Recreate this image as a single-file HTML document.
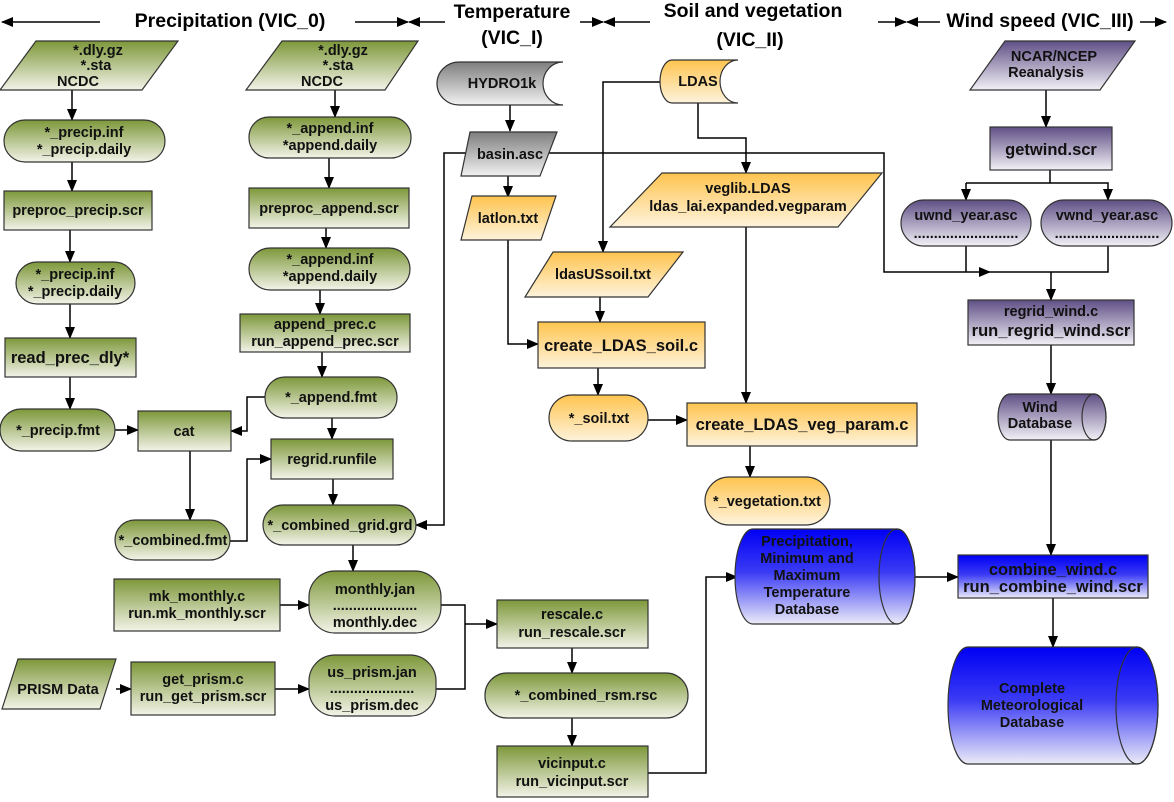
<!DOCTYPE html>
<html><head><meta charset="utf-8"><style>
html,body{margin:0;padding:0;background:#fff}
svg{display:block}
text{font-family:"Liberation Sans",sans-serif;font-weight:bold;font-size:14.5px;fill:#111;text-anchor:middle}
.h{font-size:19.5px;fill:#000}
.b{font-size:16.5px}
</style></head><body>
<svg width="1174" height="802" viewBox="0 0 1174 802" xmlns="http://www.w3.org/2000/svg">
<defs>
<linearGradient id="g" x1="0" y1="0" x2="0" y2="1"><stop offset="0" stop-color="#7d983a"/><stop offset="1" stop-color="#f3f3e8"/></linearGradient>
<linearGradient id="o" x1="0" y1="0" x2="0" y2="1"><stop offset="0" stop-color="#ffc44f"/><stop offset="1" stop-color="#fdf3dc"/></linearGradient>
<linearGradient id="gr" x1="0" y1="0" x2="0" y2="1"><stop offset="0" stop-color="#7e7e7e"/><stop offset="1" stop-color="#f2f2f2"/></linearGradient>
<linearGradient id="p" x1="0" y1="0" x2="0" y2="1"><stop offset="0" stop-color="#5f4f85"/><stop offset="1" stop-color="#f3f1f7"/></linearGradient>
<linearGradient id="bl" x1="0" y1="0" x2="0" y2="1"><stop offset="0" stop-color="#0000f5"/><stop offset="0.45" stop-color="#3a3af5"/><stop offset="1" stop-color="#ececf8"/></linearGradient>
<marker id="a" markerWidth="12" markerHeight="10" refX="11" refY="5" orient="auto" markerUnits="userSpaceOnUse"><path d="M0,0 L12,5 L0,10 Z" fill="#000"/></marker>
</defs>
<g stroke="#333" stroke-width="1.2">
<g stroke="#000" stroke-width="1.5" fill="none">
<line x1="100" y1="22" x2="2" y2="22" marker-end="url(#a)"/>
<line x1="355" y1="22" x2="408" y2="22" marker-end="url(#a)"/>
<line x1="445" y1="22" x2="409" y2="22" marker-end="url(#a)"/>
<line x1="580" y1="22" x2="603" y2="22" marker-end="url(#a)"/>
<line x1="650" y1="22" x2="604" y2="22" marker-end="url(#a)"/>
<line x1="878" y1="22" x2="906" y2="22" marker-end="url(#a)"/>
<line x1="940" y1="22" x2="907" y2="22" marker-end="url(#a)"/>
<line x1="1140" y1="22" x2="1166" y2="22" marker-end="url(#a)"/>
</g>
<g stroke="#000" stroke-width="1.5" fill="none">
<line x1="72" y1="90" x2="72" y2="120" marker-end="url(#a)"/>
<line x1="72" y1="162" x2="72" y2="191" marker-end="url(#a)"/>
<line x1="70" y1="230" x2="70" y2="262" marker-end="url(#a)"/>
<line x1="70" y1="304" x2="70" y2="338" marker-end="url(#a)"/>
<line x1="70" y1="377" x2="70" y2="409" marker-end="url(#a)"/>
<line x1="115" y1="430" x2="138" y2="430" marker-end="url(#a)"/>
<polyline points="265,397 247,397 247,431 231,431" marker-end="url(#a)"/>
<line x1="190" y1="451" x2="190" y2="520" marker-end="url(#a)"/>
<polyline points="230,541 247,541 247,459 271,459" marker-end="url(#a)"/>
<line x1="335" y1="90" x2="335" y2="117" marker-end="url(#a)"/>
<line x1="329" y1="158" x2="329" y2="188" marker-end="url(#a)"/>
<line x1="326" y1="228" x2="326" y2="248" marker-end="url(#a)"/>
<line x1="320" y1="290" x2="320" y2="314" marker-end="url(#a)"/>
<line x1="322" y1="352" x2="322" y2="377" marker-end="url(#a)"/>
<line x1="332" y1="418" x2="332" y2="439" marker-end="url(#a)"/>
<line x1="333" y1="479" x2="333" y2="505" marker-end="url(#a)"/>
<polyline points="470,153 444,153 444,525 416,525" marker-end="url(#a)"/>
<line x1="353" y1="545" x2="353" y2="571" marker-end="url(#a)"/>
<line x1="280" y1="605" x2="309" y2="605" marker-end="url(#a)"/>
<line x1="116" y1="689" x2="131" y2="689" marker-end="url(#a)"/>
<line x1="275" y1="689" x2="309" y2="689" marker-end="url(#a)"/>
<polyline points="441,605 465,605 465,689 436,689"/>
<line x1="465" y1="624" x2="497" y2="624" marker-end="url(#a)"/>
<line x1="572" y1="648" x2="572" y2="673" marker-end="url(#a)"/>
<line x1="572" y1="718" x2="572" y2="746" marker-end="url(#a)"/>
<polyline points="648,773 706,773 706,577 737,577" marker-end="url(#a)"/>
<line x1="510" y1="105" x2="510" y2="131" marker-end="url(#a)"/>
<polyline points="548,153 884,153 884,272 990,272" marker-end="url(#a)"/>
<line x1="508" y1="176" x2="508" y2="197" marker-end="url(#a)"/>
<polyline points="508,240 508,344 538,344" marker-end="url(#a)"/>
<polyline points="660,82 603,82 603,252" marker-end="url(#a)"/>
<polyline points="698,103 698,138 746,138 746,173" marker-end="url(#a)"/>
<line x1="746" y1="227" x2="746" y2="403" marker-end="url(#a)"/>
<line x1="600" y1="297" x2="600" y2="322" marker-end="url(#a)"/>
<line x1="598" y1="368" x2="598" y2="395" marker-end="url(#a)"/>
<line x1="648" y1="420" x2="687" y2="420" marker-end="url(#a)"/>
<line x1="750" y1="446" x2="750" y2="477" marker-end="url(#a)"/>
<line x1="915" y1="577" x2="958" y2="577" marker-end="url(#a)"/>
<line x1="1053" y1="598" x2="1053" y2="647" marker-end="url(#a)"/>
<line x1="1046" y1="90" x2="1046" y2="127" marker-end="url(#a)"/>
<polyline points="1050,170 1050,183"/>
<polyline points="966,183 966,200" marker-end="url(#a)"/>
<polyline points="966,183 1108,183 1108,200" marker-end="url(#a)"/>
<polyline points="966,246 966,272"/>
<polyline points="1108,246 1108,272 990,272"/>
<line x1="1051" y1="272" x2="1051" y2="300" marker-end="url(#a)"/>
<line x1="1051" y1="345" x2="1051" y2="394" marker-end="url(#a)"/>
<line x1="1051" y1="440" x2="1051" y2="555" marker-end="url(#a)"/>
</g>
<g fill="url(#g)">
<polygon points="36,41 178,41 142,90 0,90"/>
<rect x="4" y="120" width="161" height="42" rx="21"/>
<rect x="4" y="191" width="148" height="39"/>
<rect x="16" y="262" width="119" height="42" rx="21"/>
<rect x="5" y="338" width="131" height="39"/>
<rect x="0" y="409" width="115" height="42" rx="21"/>
<rect x="138" y="411" width="93" height="40"/>
<rect x="115" y="520" width="115" height="40" rx="20"/>
<polygon points="282,41 418,41 385,90 246,90"/>
<rect x="249" y="117" width="162" height="41" rx="20"/>
<rect x="249" y="188" width="160" height="40"/>
<rect x="249" y="248" width="161" height="42" rx="21"/>
<rect x="240" y="314" width="170" height="38"/>
<rect x="265" y="377" width="132" height="41" rx="20"/>
<rect x="271" y="439" width="122" height="40"/>
<rect x="263" y="505" width="153" height="40" rx="20"/>
<rect x="309" y="571" width="132" height="62" rx="26"/>
<rect x="114" y="579" width="166" height="52"/>
<polygon points="18,659 116,659 100,709 2,709"/>
<rect x="131" y="662" width="144" height="53"/>
<rect x="309" y="655" width="127" height="61" rx="26"/>
<rect x="497" y="600" width="151" height="48"/>
<rect x="485" y="673" width="203" height="45" rx="22"/>
<rect x="497" y="746" width="151" height="51"/>
</g>
<g fill="url(#gr)">
<path d="M459,62 H563 A20 21.5 0 0 0 563,105 H459 A22 21.5 0 0 1 459,62 Z"/>
<polygon points="470,132 557,132 540,176 461,176"/>
</g>
<g fill="url(#o)">
<path d="M672,60 H738 A18 21.5 0 0 0 738,103 H672 A12 21.5 0 0 1 672,60 Z"/>
<polygon points="472,196 556,196 541,240 461,240"/>
<polygon points="662,173 882,173 838,227 610,227"/>
<polygon points="553,252 683,252 648,297 525,297"/>
<rect x="538" y="322" width="167" height="46"/>
<rect x="549" y="395" width="99" height="46" rx="23"/>
<rect x="687" y="403" width="230" height="43"/>
<rect x="705" y="477" width="125" height="48" rx="24"/>
</g>
<g fill="url(#p)">
<polygon points="1005,41 1135,41 1100,90 970,90"/>
<rect x="990" y="127" width="122" height="43"/>
<rect x="901" y="200" width="130" height="46" rx="23"/>
<rect x="1041" y="200" width="131" height="46" rx="23"/>
<rect x="968" y="300" width="166" height="45"/>
<path d="M1010,394 H1094 A12 23 0 0 1 1094,440 H1010 A12 23 0 0 1 1010,394 Z"/>
<ellipse cx="1094" cy="417" rx="12" ry="23" fill="none"/>
</g>
<g fill="url(#bl)">
<path d="M753,529 H897 A18 47.5 0 0 1 897,624 H753 A18 47.5 0 0 1 753,529 Z"/>
<ellipse cx="897" cy="576.5" rx="18" ry="47.5" fill="none"/>
<rect x="958" y="555" width="190" height="43"/>
<path d="M968,647 H1137 A21 58.5 0 0 1 1137,764 H968 A20 58.5 0 0 1 968,647 Z"/>
<ellipse cx="1137" cy="705.5" rx="21" ry="58.5" fill="none"/>
</g>
</g>
<text class="h" x="230" y="27">Precipitation (VIC_0)</text>
<text class="h" x="512" y="18">Temperature</text>
<text class="h" x="512" y="44">(VIC_I)</text>
<text class="h" x="753" y="17">Soil and vegetation</text>
<text class="h" x="750" y="46">(VIC_II)</text>
<text class="h" x="1040" y="27">Wind speed (VIC_III)</text>
<text x="98" y="55">*.dly.gz</text><text x="96" y="70">*.sta</text><text x="78" y="86">NCDC</text>
<text x="84" y="137">*_precip.inf</text><text x="84" y="154">*_precip.daily</text>
<text x="78" y="215">preproc_precip.scr</text>
<text x="75" y="279">*_precip.inf</text><text x="75" y="296">*_precip.daily</text>
<text class="b" x="70" y="363">read_prec_dly*</text>
<text x="58" y="435">*_precip.fmt</text>
<text x="184" y="436">cat</text>
<text x="173" y="545">*_combined.fmt</text>
<text x="343" y="55">*.dly.gz</text><text x="338" y="70">*.sta</text><text x="322" y="86">NCDC</text>
<text x="330" y="133">*_append.inf</text><text x="330" y="150">*append.daily</text>
<text x="329" y="213">preproc_append.scr</text>
<text x="330" y="264">*_append.inf</text><text x="330" y="281">*append.daily</text>
<text x="325" y="329">append_prec.c</text><text x="325" y="346">run_append_prec.scr</text>
<text x="331" y="402">*_append.fmt</text>
<text x="332" y="464">regrid.runfile</text>
<text x="340" y="530">*_combined_grid.grd</text>
<text x="375" y="594">monthly.jan</text><text x="375" y="610">.....................</text><text x="375" y="627">monthly.dec</text>
<text x="197" y="601">mk_monthly.c</text><text x="197" y="618">run.mk_monthly.scr</text>
<text x="58" y="694">PRISM Data</text>
<text x="203" y="684">get_prism.c</text><text x="203" y="701">run_get_prism.scr</text>
<text x="372" y="677">us_prism.jan</text><text x="372" y="693">.....................</text><text x="372" y="710">us_prism.dec</text>
<text x="572" y="619">rescale.c</text><text x="572" y="637">run_rescale.scr</text>
<text x="586" y="700">*_combined_rsm.rsc</text>
<text x="572" y="768">vicinput.c</text><text x="572" y="786">run_vicinput.scr</text>
<text x="502" y="88">HYDRO1k</text>
<text x="510" y="159">basin.asc</text>
<text x="508" y="223">latlon.txt</text>
<text x="698" y="86">LDAS</text>
<text x="748" y="193">veglib.LDAS</text><text x="748" y="211">ldas_lai.expanded.vegparam</text>
<text x="603" y="279">ldasUSsoil.txt</text>
<text class="b" x="621" y="351">create_LDAS_soil.c</text>
<text x="599" y="423">*_soil.txt</text>
<text class="b" x="802" y="430">create_LDAS_veg_param.c</text>
<text x="767" y="506">*_vegetation.txt</text>
<text x="807" y="546">Precipitation,</text><text x="807" y="563">Minimum and</text><text x="807" y="580">Maximum</text><text x="807" y="597">Temperature</text><text x="807" y="614">Database</text>
<text class="b" x="1053" y="575">combine_wind.c</text><text class="b" x="1053" y="592">run_combine_wind.scr</text>
<text x="1032" y="693">Complete</text><text x="1032" y="710">Meteorological</text><text x="1032" y="727">Database</text>
<text x="1054" y="61">NCAR/NCEP</text><text x="1046" y="77">Reanalysis</text>
<text class="b" x="1051" y="155">getwind.scr</text>
<text x="966" y="220">uwnd_year.asc</text><text x="966" y="238">..........................</text>
<text x="1107" y="220">vwnd_year.asc</text><text x="1107" y="238">..........................</text>
<text x="1051" y="316">regrid_wind.c</text><text class="b" x="1051" y="336">run_regrid_wind.scr</text>
<text x="1040" y="412">Wind</text><text x="1040" y="428">Database</text>
</svg>
</body></html>
